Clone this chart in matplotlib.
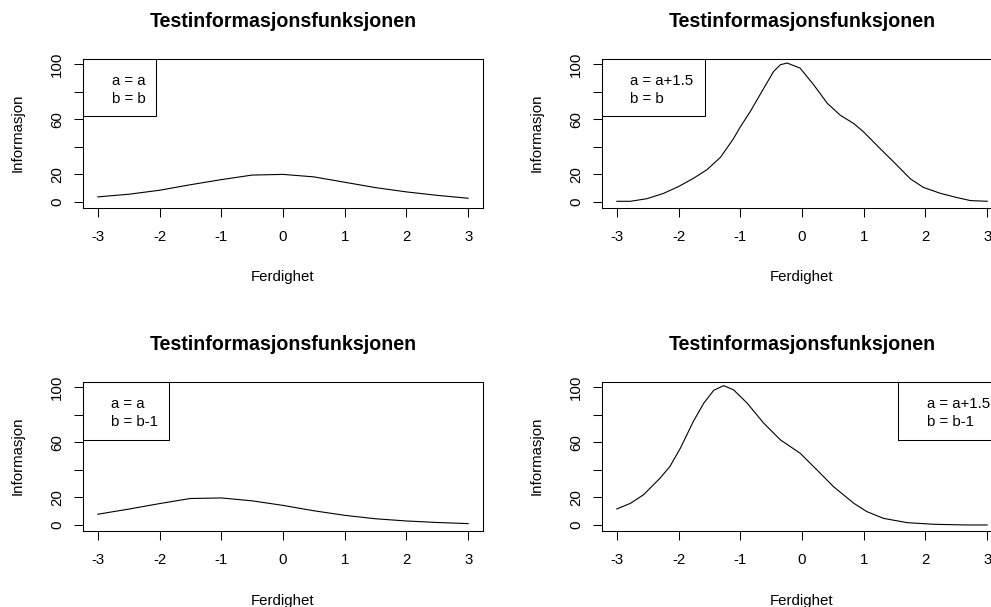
import matplotlib.pyplot as plt
from matplotlib.patches import Rectangle

plt.rcParams['font.family'] = ['Liberation Sans', 'DejaVu Sans']

# ability grid shared by the two flat panels
theta = [-3, -2.5, -2, -1.5, -1, -0.5, 0, 0.5, 1, 1.5, 2, 2.5, 3]
info_a_b = [3.7, 5.6, 8.5, 12.5, 16.2, 19.5, 20.0, 18.2, 14.3, 10.4, 7.3, 4.8, 2.7]
info_a_b1 = [7.8, 11.5, 15.5, 19.2, 19.6, 17.5, 14.2, 10.3, 7.0, 4.5, 2.9, 1.8, 1.0]

# the high-discrimination curves are read on a finer grid
theta_fine = [-3, -2.78, -2.51, -2.24, -2.0, -1.76, -1.54, -1.32, -1.11, -1.0,
              -0.84, -0.62, -0.46, -0.35, -0.24, -0.03, 0.19, 0.41, 0.62, 0.84,
              1.0, 1.27, 1.49, 1.76, 1.97, 2.24, 2.51, 2.73, 3.0]
info_a15_b = [0.5, 0.5, 2.4, 6.3, 11.2, 17.1, 23.4, 32.4, 45.9, 54.4,
              65.4, 82.4, 94.6, 99.5, 100.7, 97.0, 84.9, 71.5, 62.9, 56.8,
              50.7, 38.5, 28.8, 16.6, 10.5, 6.3, 3.2, 1.0, 0.5]

theta_fine2 = [-3, -2.78, -2.57, -2.3, -2.14, -1.97, -1.76, -1.59, -1.43, -1.27,
               -1.11, -0.89, -0.62, -0.35, -0.03, 0.24, 0.51, 0.84, 1.05, 1.32,
               1.7, 2.14, 2.68, 3.0]
info_a15_b1 = [11.6, 15.7, 21.8, 33.9, 42.4, 55.7, 75.1, 88.4, 97.6, 101.0,
               98.0, 88.4, 73.8, 61.7, 52.0, 40.0, 27.8, 15.7, 9.7, 4.8,
               1.7, 0.5, 0.0, 0.0]

xticks = [-3, -2, -1, 0, 1, 2, 3]
yticks = [0, 20, 40, 60, 80, 100]
ytick_labels = ['0', '20', '', '60', '', '100']

W, H = 991, 607
FS = 10.8
fig = plt.figure(figsize=(W / 100, H / 100), dpi=100)


def panel(left_px, bottom_px, x, y, lines, box, text_x):
    ax = fig.add_axes([left_px / W, 1 - bottom_px / H, 400 / W, 149 / H])
    ax.plot(x, y, color='black', lw=0.8)
    ax.set_xlim(-3.24, 3.24)
    ax.set_ylim(-4, 104)
    ax.set_xticks(xticks)
    ax.set_xticklabels([str(t) for t in xticks])
    ax.set_yticks(yticks)
    ax.set_yticklabels(ytick_labels, rotation=90, va='center')
    ax.tick_params(length=6.7, width=0.75, labelsize=FS, color='black')
    ax.tick_params(axis='x', pad=9.5)
    ax.tick_params(axis='y', pad=7)
    for s in ax.spines.values():
        s.set_linewidth(0.75)
    ax.set_title('Testinformasjonsfunksjonen', fontsize=14.1,
                 fontweight='bold', pad=22.5)
    ax.set_xlabel('Ferdighet', fontsize=FS, va='center')
    ax.xaxis.set_label_coords(0.5, -70 / 149)
    ax.set_ylabel('Informasjon', fontsize=FS, va='center')
    ax.yaxis.set_label_coords(-65 / 400, 0.5)
    # legend box drawn by hand, like R's legend() without symbols
    bx, by, bw, bh = box
    ax.add_patch(Rectangle((bx, by), bw, bh, transform=ax.transAxes,
                           fill=False, lw=0.75, ec='black', clip_on=False))
    for yy, t in zip([0.852, 0.725], lines):
        ax.text(text_x, yy, t, transform=ax.transAxes, fontsize=FS,
                ha='left', va='center', clip_on=False)
    return ax


panel(83, 207.5, theta, info_a_b, ['a = a', 'b = b'],
      (0, 0.611, 0.1825, 0.389), 0.0725)
panel(602, 207.5, theta_fine, info_a15_b, ['a = a+1.5', 'b = b'],
      (0, 0.611, 0.2575, 0.389), 0.07)
panel(83, 530.5, theta, info_a_b1, ['a = a', 'b = b-1'],
      (0, 0.609, 0.215, 0.391), 0.07)
panel(602, 530.5, theta_fine2, info_a15_b1, ['a = a+1.5', 'b = b-1'],
      (0.74, 0.609, 0.26, 0.391), 0.8125)

fig.savefig('out.png', dpi=100, facecolor='white')
